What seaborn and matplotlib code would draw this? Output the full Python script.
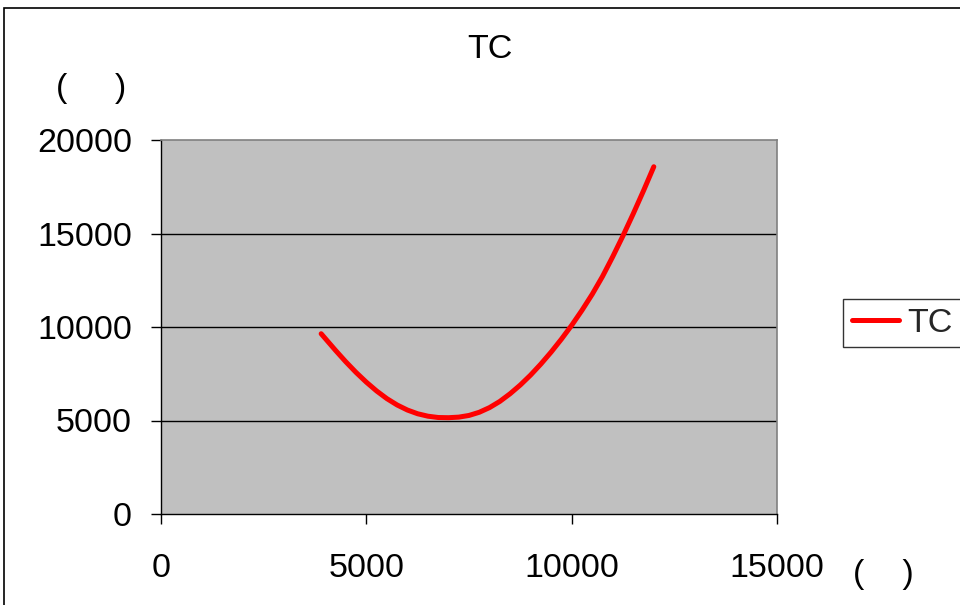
import matplotlib
matplotlib.use("Agg")
import matplotlib.pyplot as plt
import seaborn as sns
import pandas as pd
from matplotlib.patches import Rectangle
from matplotlib.lines import Line2D

# ---- data ----
output_q = [3900, 4250, 4500, 4750, 5000, 5250, 5500, 5750, 6000, 6250,
            6500, 6750, 7000, 7250, 7500, 7750, 8000, 8250, 8500, 8750,
            9000, 9250, 9500, 9750, 10000, 10250, 10500, 10750, 11000,
            11250, 11500, 11750, 12000]
total_cost = [9640, 8750, 8140, 7570, 7050, 6580, 6170, 5830, 5560, 5360,
              5230, 5160, 5150, 5180, 5270, 5440, 5690, 6020, 6430, 6900,
              7430, 8020, 8660, 9350, 10090, 10890, 11750, 12700, 13760,
              14880, 16060, 17290, 18570]
series_name = "TC"
title_text = "TC"
y_label = "(     )"
x_label = "(    )"
x_ticks = [0, 5000, 10000, 15000]
y_ticks = [0, 5000, 10000, 15000, 20000]

sns.set_theme(style="white")
plt.rcParams['font.family'] = ['Liberation Sans', 'Noto Sans CJK SC', 'DejaVu Sans']

W, H = 960, 605
FS = 24.5
fig = plt.figure(figsize=(W / 100, H / 100), dpi=100)
fig.patch.set_facecolor("white")

# outer chart border (extends past right/bottom edge like the crop)
fig.patches.append(Rectangle((4 / W, -0.05), 1.2, 1 - 8 / H + 0.05,
                             transform=fig.transFigure, fill=False,
                             edgecolor="black", linewidth=1.2))

ax = fig.add_axes([161 / W, 1 - 514 / H, (777 - 161) / W, (514 - 140) / H])
ax.set_facecolor("#C0C0C0")

df = pd.DataFrame({"Q": output_q, "TC": total_cost, "series": series_name})
sns.lineplot(data=df, x="Q", y="TC", hue="series", palette=["#FF0000"],
             sort=False, estimator=None, linewidth=3.6, ax=ax,
             solid_capstyle="round", solid_joinstyle="round", legend=False)

ax.set_xlim(0, 15000)
ax.set_ylim(0, 20000)
ax.set_xticks(x_ticks)
ax.set_yticks(y_ticks)
ax.set_xticklabels([str(v) for v in x_ticks])
ax.set_yticklabels([str(v) for v in y_ticks])
ax.set_xlabel("")
ax.set_ylabel("")

for yv in y_ticks[1:-1]:
    ax.axhline(yv, color="black", linewidth=1.0, zorder=1)

for side in ["top", "right"]:
    ax.spines[side].set_color("#808080")
    ax.spines[side].set_linewidth(1.2)
for side in ["left", "bottom"]:
    ax.spines[side].set_color("black")
    ax.spines[side].set_linewidth(1.0)

ax.tick_params(axis="both", which="major", direction="out", length=7,
               width=1, color="black", labelsize=FS, labelcolor="black",
               bottom=True, left=True, top=False, right=False)
ax.tick_params(axis="y", pad=14)
ax.tick_params(axis="x", pad=21)

fig.text(490 / W, 1 - 50 / H, title_text, ha="center", va="center",
         fontsize=FS, color="black")
fig.text(91 / W, 1 - 88 / H, y_label, ha="center", va="center",
         fontsize=FS, color="black")
fig.text(883 / W, 1 - 574 / H, x_label, ha="center", va="center",
         fontsize=FS, color="black")

# legend
handle = Line2D([0], [0], color="#FF0000", linewidth=3.6)
leg = fig.legend([handle], [series_name], loc="upper left",
                 bbox_to_anchor=(843 / W, 1 - 299 / H),
                 bbox_transform=fig.transFigure, frameon=True, fancybox=False,
                 fontsize=FS, handlelength=1.4, handletextpad=0.25,
                 borderpad=0.25, borderaxespad=0.0)
leg.get_frame().set_edgecolor("black")
leg.get_frame().set_linewidth(1.0)

fig.savefig("out.png", dpi=100, facecolor="white")
